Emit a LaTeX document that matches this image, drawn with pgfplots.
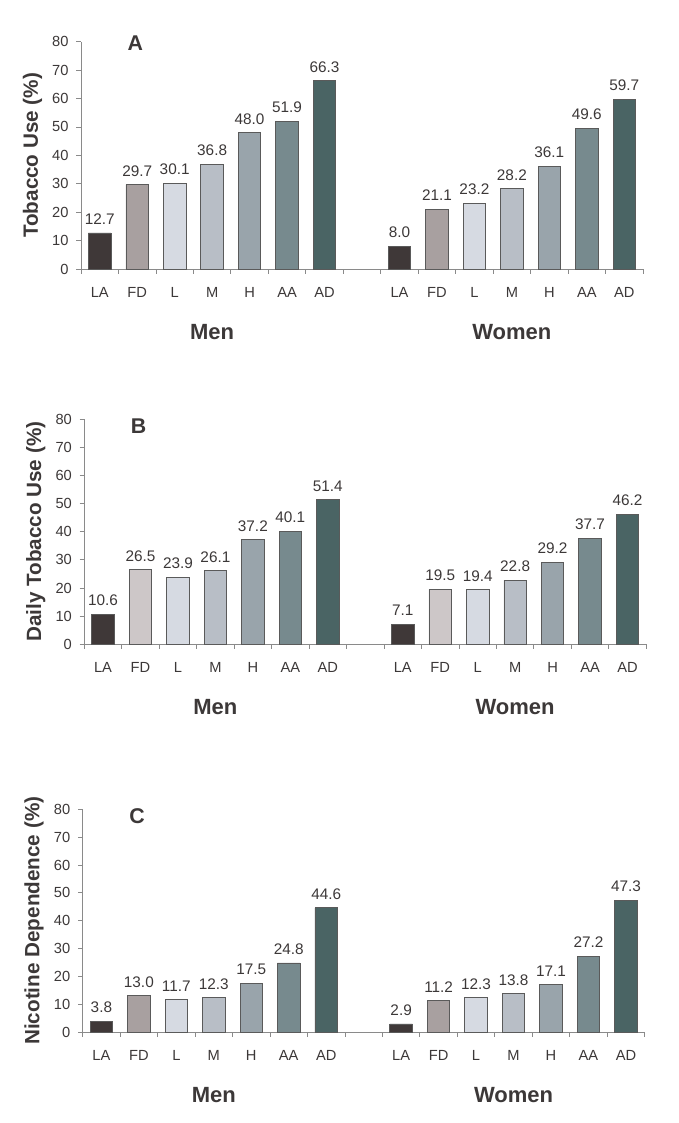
\documentclass[border=0pt]{standalone}
\usepackage{fontspec}
\setmainfont{Liberation Sans}
\usepackage{pgfplots}
\pgfplotsset{compat=1.18}

\definecolor{txt}{HTML}{3C3838}
\definecolor{axisgray}{HTML}{8A8A8A}
\definecolor{edge}{HTML}{5A5A5A}
\definecolor{cLA}{HTML}{3F3838}
\definecolor{cFD}{HTML}{A8A0A0}
\definecolor{cFDb}{HTML}{CDC7C8}
\definecolor{cL}{HTML}{D6DAE2}
\definecolor{cM}{HTML}{B8BEC6}
\definecolor{cH}{HTML}{99A4AB}
\definecolor{cAA}{HTML}{778A8E}
\definecolor{cAD}{HTML}{4A6464}

\pgfplotsset{
  panel/.style={
    scale only axis,
    width=421.5pt,
    anchor=south west,
    ybar, bar shift=0pt, bar width=0.6,
    xmin=-0.5, xmax=14.5,
    ymin=0, ymax=80,
    ytick={0,10,...,80},
    xtick={-0.5,0.5,...,14.5},
    x tick label as interval,
    xticklabels={LA,FD,L,M,H,AA,AD,{},LA,FD,L,M,H,AA,AD,{}},
    axis x line*=bottom, axis y line*=left,
    axis line style={axisgray, line width=0.6pt},
    tick style={axisgray, line width=0.6pt},
    tick align=outside,
    major tick length=3.5pt,
    /pgf/number format/assume math mode=true,
    ticklabel style={font=\fontsize{11}{13}\selectfont, text=txt},
    xticklabel style={yshift=-6.5pt},
    yticklabel style={xshift=-2.3pt},
    ylabel style={font=\fontsize{15.5}{18}\selectfont\bfseries, text=txt,
      at={([xshift=-29pt]axis description cs:0,0.5)}, anchor=south, inner sep=0pt},
    nodes near coords={\pgfmathprintnumber[fixed,fixed zerofill,precision=1]{\pgfplotspointmeta}},
    every node near coord/.append style={font=\fontsize{11.5}{13}\selectfont, text=txt,
      inner sep=0pt, yshift=6pt},
    clip=false,
  },
  bar/.style={fill=#1, draw=edge, line width=0.6pt},
}

\newcommand\grouplabels{%
  \node[font=\fontsize{16.5}{19}\selectfont\bfseries, text=txt, anchor=base]
    at (axis cs:3,0) [yshift=-53pt] {Men};
  \node[font=\fontsize{16.5}{19}\selectfont\bfseries, text=txt, anchor=base]
    at (axis cs:11,0) [yshift=-53pt] {Women};
}

\begin{document}
\begin{tikzpicture}
\useasboundingbox (0,0) rectangle (508.5pt,-842.25pt);

% Panel A
\begin{axis}[panel, at={(60.75pt,-201.75pt)}, height=170.5pt,
  ylabel={Tobacco Use (\%)}]
\addplot[bar=cLA] coordinates {(0,12.7) (8,8.0)};
\addplot[bar=cFD] coordinates {(1,29.7) (9,21.1)};
\addplot[bar=cL]  coordinates {(2,30.1) (10,23.2)};
\addplot[bar=cM]  coordinates {(3,36.8) (11,28.2)};
\addplot[bar=cH]  coordinates {(4,48.0) (12,36.1)};
\addplot[bar=cAA] coordinates {(5,51.9) (13,49.6)};
\addplot[bar=cAD] coordinates {(6,66.3) (14,59.7)};
\node[font=\fontsize{16}{18}\selectfont\bfseries, text=txt] at (axis cs:0.95,79.3) {A};
\grouplabels
\end{axis}

% Panel B
\begin{axis}[panel, at={(63.2pt,-483.2pt)}, height=168.75pt,
  ylabel={Daily Tobacco Use (\%)}]
\addplot[bar=cLA]  coordinates {(0,10.6) (8,7.1)};
\addplot[bar=cFDb] coordinates {(1,26.5) (9,19.5)};
\addplot[bar=cL]   coordinates {(2,23.9) (10,19.4)};
\addplot[bar=cM]   coordinates {(3,26.1) (11,22.8)};
\addplot[bar=cH]   coordinates {(4,37.2) (12,29.2)};
\addplot[bar=cAA]  coordinates {(5,40.1) (13,37.7)};
\addplot[bar=cAD]  coordinates {(6,51.4) (14,46.2)};
\node[font=\fontsize{16}{18}\selectfont\bfseries, text=txt] at (axis cs:0.95,77.6) {B};
\grouplabels
\end{axis}

% Panel C
\begin{axis}[panel, at={(62pt,-774pt)}, height=167pt,
  ylabel={Nicotine Dependence (\%)}]
\addplot[bar=cLA] coordinates {(0,3.8) (8,2.9)};
\addplot[bar=cFD] coordinates {(1,13.0) (9,11.2)};
\addplot[bar=cL]  coordinates {(2,11.7) (10,12.3)};
\addplot[bar=cM]  coordinates {(3,12.3) (11,13.8)};
\addplot[bar=cH]  coordinates {(4,17.5) (12,17.1)};
\addplot[bar=cAA] coordinates {(5,24.8) (13,27.2)};
\addplot[bar=cAD] coordinates {(6,44.6) (14,47.3)};
\node[font=\fontsize{16}{18}\selectfont\bfseries, text=txt] at (axis cs:0.95,77.7) {C};
\grouplabels
\end{axis}
\end{tikzpicture}
\end{document}
